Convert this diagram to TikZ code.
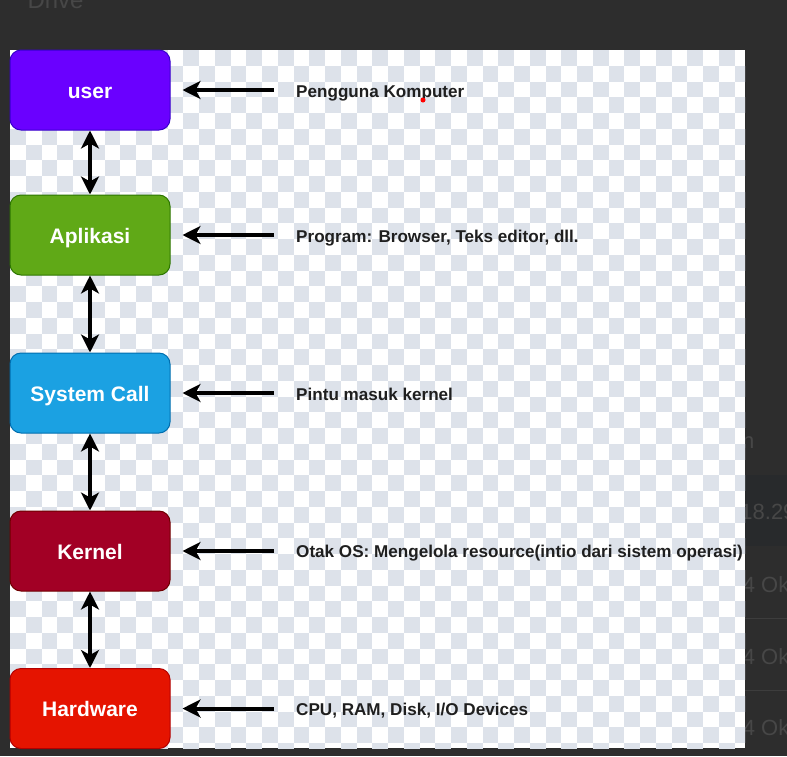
\documentclass[tikz,border=0pt]{standalone}
\usepackage{fontspec}
\setmainfont{Liberation Sans}
\usetikzlibrary{arrows.meta}
\definecolor{bgdark}{HTML}{2D2D2D}
\definecolor{bgband}{HTML}{282A2C}
\definecolor{uitext}{HTML}{474747}
\definecolor{checker}{HTML}{DDE2EA}
\definecolor{userfill}{HTML}{6A00FF}
\definecolor{userline}{HTML}{3700CC}
\definecolor{aplfill}{HTML}{60A917}
\definecolor{aplline}{HTML}{2D7600}
\definecolor{sysfill}{HTML}{1BA1E2}
\definecolor{sysline}{HTML}{006EAF}
\definecolor{kerfill}{HTML}{A20025}
\definecolor{kerline}{HTML}{6F0000}
\definecolor{hwfill}{HTML}{E51400}
\definecolor{hwline}{HTML}{B20000}
\tikzset{
  layer/.style={draw, rounded corners=11pt, line width=1pt, minimum width=160pt,
    minimum height=80pt, text height=19.5pt, text depth=3pt, text=white,
    font=\fontsize{21}{24}\selectfont\bfseries},
  desc/.style={anchor=base west, inner sep=0pt, text=black!88,
    font=\fontsize{17.1}{20}\selectfont\bfseries},
  link/.style={line width=4pt, {Stealth[length=18pt,width=18pt,inset=5pt]}-{Stealth[length=18pt,width=18pt,inset=5pt]}},
  point/.style={line width=4pt, -{Stealth[length=18pt,width=18pt,inset=5pt]}, shorten <=22pt, shorten >=12pt},
}
\begin{document}
\begin{tikzpicture}[x=1pt,y=-1pt]
  \useasboundingbox (0,0) rectangle (787,756);
  \clip (0,0) rectangle (787,756);
  % screen behind
  \fill[bgdark] (0,0) rectangle (787,756);
  \fill[bgband] (745,475) rectangle (787,546);
  \draw[uitext!60!bgdark] (745,618) -- (787,618);
  \draw[uitext!60!bgdark] (745,690) -- (787,690);
  \node[anchor=base west, text=uitext, font=\fontsize{24}{28}\selectfont] (drive) at (24,8) {Drive};
  \node[anchor=base east, text=uitext, font=\fontsize{22}{26}\selectfont] (colname) at (758,448) {n};
  \node[anchor=base east, text=uitext, font=\fontsize{22}{26}\selectfont] (size) at (799,519) {18.29};
  \foreach \y in {592,664,735}
    \node[anchor=base east, text=uitext, font=\fontsize{22}{26}\selectfont] at (799,\y) {14 Okt};
  % panel
  \fill[white] (10,50) rectangle (745,748);
  \begin{scope}
    \clip (10,50) rectangle (745,748);
    \foreach \j in {0,...,44}{
      \pgfmathtruncatemacro\st{mod(\j+1,2)}
      \foreach \i in {0,2,...,46}
        \fill[checker] ({10+(\i+\st)*15.75},{50+\j*15.75}) rectangle +(15.75,15.75);
    }
  \end{scope}
  % layers
  \node[layer, fill=userfill, draw=userline] (user) at (90,90) {user};
  \node[layer, fill=aplfill, draw=aplline] (apl) at (90,235) {Aplikasi};
  \node[layer, fill=sysfill, draw=sysline] (syscall) at (90,393) {System Call};
  \node[layer, fill=kerfill, draw=kerline] (kernel) at (90,551) {Kernel};
  \node[layer, fill=hwfill, draw=hwline] (hw) at (90,708.5) {Hardware};
  \draw[link] (user) -- (apl);
  \draw[link] (apl) -- (syscall);
  \draw[link] (syscall) -- (kernel);
  \draw[link] (kernel) -- (hw);
  % descriptions
  \node[desc] (userTxt) at (296,97) {Pengguna Komputer};
  \node[desc] (aplTxt) at (296,242) {Program: Browser, Teks editor, dll.};
  \node[desc] (sysTxt) at (296,400) {Pintu masuk kernel};
  \node[desc] (kerTxt) at (296,557.5) {Otak OS: Mengelola resource(intio dari sistem operasi)};
  \node[desc] (hwTxt) at (296,715.5) {CPU, RAM, Disk, I/O Devices};
  \fill[red] (423,100) circle (2.5);
  \draw[point] (user.east -| userTxt.west) -- (user.east);
  \draw[point] (apl.east -| aplTxt.west) -- (apl.east);
  \draw[point] (syscall.east -| sysTxt.west) -- (syscall.east);
  \draw[point] (kernel.east -| kerTxt.west) -- (kernel.east);
  \draw[point] (hw.east -| hwTxt.west) -- (hw.east);
\end{tikzpicture}
\end{document}
